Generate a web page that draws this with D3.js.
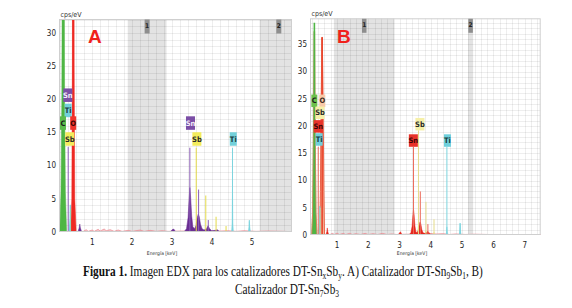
<!DOCTYPE html>
<html><head><meta charset="utf-8">
<script src="https://cdn.jsdelivr.net/npm/d3@7"></script>
<style>body{margin:0;background:#fff}svg{display:block}</style>
</head><body>
<svg id="c" width="572" height="308"></svg>
<script>
// ---------- DATA ----------
const xTicksA = [1, 2, 3, 4, 5];
const yTicksA = [0, 5, 10, 15, 20, 25, 30];
const xTicksB = [1, 2, 3, 4, 5, 6, 7];
const yTicksB = [0, 5, 10, 15, 20, 25, 30, 35];

const bandsA = [[1.89, 2.86, "1"], [5.19, 6.15, "2"]];
const bandsB = [[0.90, 2.84, "1"], [5.19, 5.35, "2"]];

// spectra [keV, cps/eV]
const noiseA = [[0.60,0],[0.78,0.1],[0.85,0.35],[0.9,0.1],[1.0,0.3],[1.05,0.1],[1.15,0.4],[1.2,0.15],[1.3,0.45],[1.35,0.2],[1.45,0.35],[1.55,0.1],[1.65,0.3],[1.75,0.1],[1.9,0.25],[2.0,0.1],[2.2,0.3],[2.3,0.1],[2.45,0.25],[2.6,0.1],[2.75,0.2],[2.9,0.1],[3.2,0.15],[4.2,0.15],[4.4,0.2],[4.6,0.1],[4.8,0.2],[5.1,0.1],[5.4,0.15],[5.8,0.1],[6.1,0]];
const specA_C  = [[0.19,0],[0.22,6],[0.24,20],[0.268,70],[0.288,70],[0.31,20],[0.33,6],[0.36,0]];
const specA_O  = [[0.46,0],[0.49,5],[0.505,25],[0.515,70],[0.54,70],[0.55,25],[0.565,5],[0.60,0]];
const specA_Sn = [[0.64,0],[0.675,0.6],[0.69,1.2],[0.705,0.6],[0.74,0],[2.95,0],[3.0,0.35],[3.04,0.45],[3.08,0.1],[3.12,0],[3.30,0.05],[3.36,0.5],[3.40,2.2],[3.425,5.0],[3.445,6.7],[3.465,5.2],[3.49,2.4],[3.52,0.8],[3.56,0.5],[3.60,1.0],[3.63,2.2],[3.655,2.7],[3.68,2.3],[3.71,1.2],[3.75,0.5],[3.80,0.3],[3.86,0.5],[3.90,0.95],[3.94,0.5],[3.99,0.2],[4.08,0.25],[4.13,0.35],[4.18,0.1],[4.3,0]];
const specA_Sb = [[3.55,0],[3.59,0.5],[3.61,0.7],[3.63,0.3],[3.66,0],[3.82,0],[3.845,0.4],[3.87,0],[4.08,0],[4.10,0.3],[4.12,0]];
const specA_Ti = [[0.42,0],[0.445,2],[0.455,4.1],[0.465,2],[0.49,0],[4.49,0],[4.503,1.5],[4.511,6.5],[4.519,1.5],[4.532,0],[4.91,0],[4.925,0.8],[4.933,1.6],[4.942,0.8],[4.96,0]];

const noiseB = [[0.60,0],[0.78,0.1],[0.85,0.3],[0.92,0.1],[1.0,0.35],[1.08,0.1],[1.2,0.3],[1.28,0.1],[1.4,0.3],[1.5,0.1],[1.6,0.25],[1.75,0.1],[1.9,0.3],[2.0,0.1],[2.15,0.25],[2.3,0.1],[2.45,0.3],[2.6,0.1],[2.75,0.2],[2.9,0.1],[3.2,0.15],[4.2,0.2],[4.4,0.25],[4.6,0.1],[4.8,0.2],[5.1,0.1],[5.4,0.15],[5.8,0.1],[6.3,0.05],[7.0,0.05],[7.6,0]];
const specB_C  = [[0.19,0],[0.22,4],[0.245,17],[0.268,37.4],[0.284,37.4],[0.305,17],[0.33,4],[0.36,0]];
const specB_O  = [[0.45,0],[0.47,8],[0.49,22],[0.518,36.3],[0.53,36.3],[0.56,22],[0.58,8],[0.60,0]];
const specB_Sn = [[0.64,0],[0.675,0.6],[0.69,1.3],[0.705,0.6],[0.74,0],[2.95,0],[3.0,0.4],[3.03,0.6],[3.07,0.1],[3.12,0],[3.30,0.05],[3.36,0.4],[3.40,1.6],[3.425,3.6],[3.445,4.7],[3.465,3.7],[3.49,1.7],[3.52,0.6],[3.56,0.4],[3.60,0.9],[3.63,1.9],[3.655,2.4],[3.68,2.0],[3.71,1.0],[3.75,0.4],[3.80,0.3],[3.86,0.4],[3.90,0.7],[3.94,0.4],[3.99,0.2],[4.3,0]];
const specB_Sb = [[3.55,0],[3.59,1.2],[3.61,2.0],[3.64,1.0],[3.67,0],[3.80,0],[3.84,0.8],[3.88,0],[4.07,0],[4.10,0.5],[4.13,0]];
const specB_Ti = [[0.41,0],[0.44,2.5],[0.455,5.3],[0.47,2.5],[0.50,0],[4.49,0],[4.505,0.8],[4.512,1.5],[4.52,0.8],[4.535,0],[4.91,0],[4.925,1],[4.935,2.1],[4.945,1],[4.96,0]];

// element marker lines [keV, height]
const markA_C  = [[0.277, 40]];
const markA_O  = [[0.525, 40]];
const markA_Sn = [[0.40, 12.8], [3.444, 12.7], [3.663, 6.4], [3.905, 1.8]];
const markA_Sb = [[0.46, 3.5], [3.604, 12.7], [3.843, 5.5], [4.10, 2.3], [4.35, 0.9]];
const markA_Ti = [[0.452, 4.0], [4.511, 12.7], [4.932, 1.8]];

const markB_C  = [[0.277, 39]];
const markB_O  = [[0.525, 36.3]];
const markB_Sn = [[0.40, 16.2], [3.444, 16.2], [3.663, 8.0], [3.905, 2.0]];
const markB_Sb = [[0.46, 5.0], [3.604, 19.2], [3.843, 6.1], [4.10, 2.9]];
const markB_Ti = [[0.452, 5.3], [4.512, 16.2], [4.934, 2.2]];

// peak labels [element, keV, cps at box bottom]
const labelsA = [["Sn",0.39,19.6],["Ti",0.40,17.3],["C",0.27,15.4],["O",0.525,15.4],["Sb",0.44,13.0],["Sn",3.46,15.4],["Sb",3.62,13.0],["Ti",4.53,13.0]];
const labelsB = [["C",0.275,23.5],["O",0.53,23.5],["Sb",0.457,21.3],["Sn",0.40,18.8],["Ti",0.43,16.4],["Sb",3.65,19.2],["Sn",3.44,16.2],["Ti",4.53,16.2]];

// ---------- STYLES ----------
const colA = {bg:"#ea8a90", C:"#4fb645", O:"#ee2a24", Sn:"#6a2e93", Sb:"#e6de36", Ti:"#6bd0dc"};
const colB = {bg:"#ea8a90", C:"#4fb645", O:"#f5bc9c", Sn:"#e5271f", Sb:"#ece49a", Ti:"#6bd0dc"};
const lineA = {C:"#4fb645", O:"#ee2a24", Sn:"#8a5cb5", Sb:"#e3da4a", Ti:"#7dd4de"};
const lineB = {C:"#4fb645", O:"#e8462e", Sn:"#ec6a5a", Sb:"#e5dc8a", Ti:"#7dd4de"};
const labA = {C:["#5cbb4c","#1a1a1a"], O:["#f0342c","#3a0505"], Sn:["#7b4ea6","#f4effa"], Sb:["#f3ec5c","#2a2a2a"], Ti:["#72d0da","#1a3a3a"]};
const labB = {C:["#6cc04c","#1a1a1a"], O:["#f8c9a8","#3a2a20"], Sn:["#e8322a","#3a0505"], Sb:["#f6f0a8","#2a2a2a"], Ti:["#6fd0dc","#1a3a3a"]};

const svg = d3.select("#c");
const tickFont = "'Liberation Sans Narrow','DejaVu Sans Condensed',sans-serif";

function panel(cfg) {
  const x = d3.scaleLinear().domain(cfg.xd).range([cfg.l, cfg.r]);
  const y = d3.scaleLinear().domain(cfg.yd).range([cfg.b, cfg.t]);
  const g = svg.append("g");
  const cid = "clip" + cfg.name;
  svg.append("defs").append("clipPath").attr("id", cid)
    .append("rect").attr("x", cfg.l).attr("y", cfg.t).attr("width", cfg.r - cfg.l).attr("height", cfg.b - cfg.t);
  const pg = g.append("g").attr("clip-path", `url(#${cid})`);
  pg.append("rect").attr("x", cfg.l).attr("y", cfg.t).attr("width", cfg.r - cfg.l).attr("height", cfg.b - cfg.t).attr("fill", "#fff");
  // bands
  pg.selectAll(".band").data(cfg.bands).enter().append("rect")
    .attr("x", d => x(d[0])).attr("y", cfg.t).attr("width", d => x(d[1]) - x(d[0])).attr("height", cfg.b - cfg.t)
    .attr("fill", "#e3e3e3");
  // grid
  const xg = d3.range(0, cfg.xd[1] + 0.01, 0.2).filter(v => v > cfg.xd[0]);
  const yg = d3.range(0, cfg.yd[1], 1);
  pg.selectAll(".gx").data(xg).enter().append("line")
    .attr("x1", d => Math.round(x(d)) + 0.5).attr("x2", d => Math.round(x(d)) + 0.5).attr("y1", cfg.t).attr("y2", cfg.b)
    .attr("stroke", "rgba(0,0,0,0.065)").attr("stroke-width", 1);
  pg.selectAll(".gy").data(yg).enter().append("line")
    .attr("y1", d => Math.round(y(d)) + 0.5).attr("y2", d => Math.round(y(d)) + 0.5).attr("x1", cfg.l).attr("x2", cfg.r)
    .attr("stroke", "rgba(0,0,0,0.065)").attr("stroke-width", 1);
  // spectra
  const area = d3.area().x(d => x(d[0])).y0(y(0)).y1(d => y(d[1]));
  const line = d3.line().x(d => x(d[0])).y(d => y(d[1]));
  pg.append("path").datum(cfg.noise).attr("d", area).attr("fill", cfg.col.bg).attr("fill-opacity", 0.5)
    .attr("stroke", cfg.col.bg).attr("stroke-width", 0.7);
  cfg.series.forEach(s => {
    pg.append("path").datum(s[1]).attr("d", area).attr("fill", cfg.col[s[0]]).attr("stroke", cfg.col[s[0]]).attr("stroke-width", 0.5);
  });
  if (cfg.outline) {
    cfg.outline.forEach(s => pg.append("path").datum(s[1]).attr("d", line).attr("fill", "none").attr("stroke", s[0]).attr("stroke-width", 0.8));
  }
  // markers
  cfg.marks.forEach(m => {
    pg.selectAll(null).data(m[1]).enter().append("line")
      .attr("x1", d => x(d[0])).attr("x2", d => x(d[0])).attr("y1", y(0)).attr("y2", d => y(d[1]))
      .attr("stroke", cfg.line[m[0]]).attr("stroke-width", m[0] === "O" || m[0] === "C" ? 1.6 : 1);
  });
  // frame
  g.append("rect").attr("x", cfg.l + 0.5).attr("y", cfg.t + 0.5).attr("width", cfg.r - cfg.l - 1).attr("height", cfg.b - cfg.t - 1)
    .attr("fill", "none").attr("stroke", "#cfcfcf");
  // band labels
  cfg.bands.forEach(d => {
    const cx = (x(d[0]) + x(Math.min(d[1], cfg.xd[1] + 0.15))) / 2;
    const w = cfg.bw;
    g.append("rect").attr("x", cx - w / 2).attr("y", cfg.t + 0.5).attr("width", w).attr("height", 14).attr("fill", "#8e8e8e");
    g.append("text").attr("x", cx).attr("y", cfg.t + 9).attr("text-anchor", "middle")
      .attr("font-family", tickFont).attr("font-size", 6.5).attr("font-weight", "bold").attr("fill", "#222").text(d[2]);
  });
  // peak labels
  cfg.labels.forEach(d => {
    const w = d[0].length === 1 ? 6 : (d[0] === "Ti" ? 7 : 9);
    const cx = x(d[1]), by = y(d[2]);
    g.append("rect").attr("x", cx - w / 2).attr("y", by - cfg.lh).attr("width", w).attr("height", cfg.lh)
      .attr("fill", cfg.lab[d[0]][0]);
    g.append("text").attr("x", cx).attr("y", by - cfg.lh / 2 + 2.6).attr("text-anchor", "middle")
      .attr("font-family", tickFont).attr("font-size", 7.5).attr("font-weight", "bold")
      .attr("fill", cfg.lab[d[0]][1]).text(d[0]);
  });
  // axes labels
  const tg = g.append("g").attr("font-family", tickFont).attr("font-size", 8).attr("fill", "#1e1e1e");
  tg.selectAll(".yt").data(cfg.yt).enter().append("text")
    .attr("x", cfg.l - 3).attr("y", d => y(d) + 2.8).attr("text-anchor", "end").text(d => d);
  tg.selectAll(".xt").data(cfg.xt).enter().append("text")
    .attr("x", d => x(d)).attr("y", cfg.b + 13).attr("text-anchor", "middle").text(d => d);
  g.append("text").attr("x", cfg.l + 1.5).attr("y", cfg.t - 2.5).attr("font-family", tickFont).attr("font-size", 7)
    .attr("fill", "#333").text("cps/eV");
  g.append("text").attr("x", cfg.ex).attr("y", 255).attr("text-anchor", "middle").attr("font-family", tickFont)
    .attr("font-size", 5).attr("fill", "#333").text("Energía [keV]");
  g.append("text").attr("x", cfg.lx).attr("y", 42.7).attr("font-family", "'Liberation Sans',Arial,sans-serif")
    .attr("font-size", 19).attr("font-weight", "bold").attr("fill", "#f0221c").text(cfg.name);
}

panel({name:"A", xd:[0.17, 6.0], yd:[0, 32.1], l:59, r:292, t:19, b:232, bands:bandsA, bw:5,
  noise:noiseA, col:colA, line:lineA, lab:labA, lh:13.5,
  series:[["Sb",specA_Sb],["Ti",specA_Ti],["Sn",specA_Sn],["C",specA_C],["O",specA_O]],
  marks:[["Sn",markA_Sn],["Sb",markA_Sb],["Ti",markA_Ti],["C",markA_C],["O",markA_O]],
  labels:labelsA, xt:xTicksA, yt:yTicksA, ex:162, lx:88});

panel({name:"B", xd:[0.137, 7.51], yd:[0, 39.8], l:310, r:540.7, t:18.3, b:235, bands:bandsB, bw:4.5,
  noise:noiseB, col:colB, line:lineB, lab:labB, lh:12.5,
  series:[["Sb",specB_Sb],["Ti",specB_Ti],["Sn",specB_Sn],["C",specB_C],["O",specB_O]],
  outline:[["#e9795a", specB_C], ["#e8462e", specB_O]],
  marks:[["Sn",markB_Sn],["Sb",markB_Sb],["Ti",markB_Ti],["C",markB_C],["O",markB_O]],
  labels:labelsB, xt:xTicksB, yt:yTicksB, ex:412, lx:337});

// ---------- CAPTION ----------
const serif = "'Liberation Serif','Times New Roman',serif";
function caption(parts, yb, fs) {
  const t = svg.append("text").attr("x", 0).attr("y", yb).attr("font-family", serif).attr("font-size", fs).attr("fill", "#111");
  parts.forEach(p => {
    const ts = t.append("tspan").text(p.s);
    if (p.b) ts.attr("font-weight", "bold");
    if (p.sub) ts.attr("font-size", fs * 0.66).attr("dy", 3);
    if (p.up) ts.attr("dy", -3);
  });
  return t;
}
const parts1 = [{s:"Figura 1.", b:1},{s:" Imagen EDX para los catalizadores DT-Sn"},{s:"x", sub:1},{s:"Sb", up:1},{s:"y", sub:1},{s:". A) Catalizador DT-Sn", up:1},{s:"9", sub:1},{s:"Sb", up:1},{s:"1", sub:1},{s:", B)", up:1}];
const parts2 = [{s:"Catalizador DT-Sn"},{s:"7", sub:1},{s:"Sb", up:1},{s:"3", sub:1}];
const fs = 14.5;
const l1 = caption(parts1, 276, fs);
const l2 = caption(parts2, 294.5, fs);
const w1 = l1.node().getComputedTextLength();
const w2 = l2.node().getComputedTextLength();
const sx = 400 / w1;
l1.attr("transform", `translate(${283 - w1 * sx / 2},0) scale(${sx},1)`);
l2.attr("transform", `translate(${287 - w2 * sx / 2},0) scale(${sx},1)`);
</script>
</body></html>
